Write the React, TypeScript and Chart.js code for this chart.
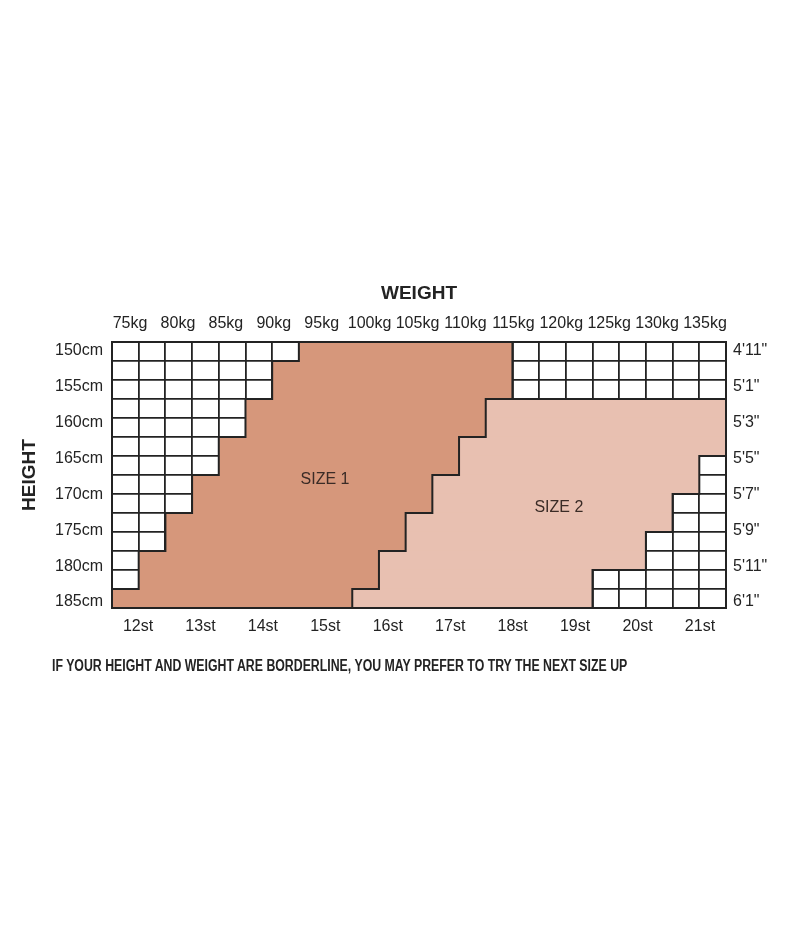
import React, { useEffect, useRef } from "react";
import { Chart, registerables } from "chart.js";

Chart.register(...registerables);

// ---- Data ----
// The grid has 23 weight columns and 14 height rows (row 0 = top, 150cm).
const columnCount = 23;
const rowCount = 14;
// Per row: first column of SIZE 1 (columns before it are blank cells)
const size1Start = [7, 6, 6, 5, 5, 4, 4, 3, 3, 2, 2, 1, 1, 0];
// Per row: first column of SIZE 2 (= end of SIZE 1)
const size2Start = [15, 15, 15, 14, 14, 13, 13, 12, 12, 11, 11, 10, 10, 9];
// Per row: end column of SIZE 2 (null = no SIZE 2 on that row)
const size2End: (number | null)[] = [null, null, null, 23, 23, 23, 22, 22, 21, 21, 20, 20, 18, 18];

const sizeNames = ["SIZE 1", "SIZE 2"];

const kgTicks = [75, 80, 85, 90, 95, 100, 105, 110, 115, 120, 125, 130, 135];
const stTicks = [12, 13, 14, 15, 16, 17, 18, 19, 20, 21];
const cmTicks = [150, 155, 160, 165, 170, 175, 180, 185];
const inchTicks = [59, 61, 63, 65, 67, 69, 71, 73];
const ftLabels = [`4'11"`, `5'1"`, `5'3"`, `5'5"`, `5'7"`, `5'9"`, `5'11"`, `6'1"`];

const footnote =
  "IF YOUR HEIGHT AND WEIGHT ARE BORDERLINE, YOU MAY PREFER TO TRY THE NEXT SIZE UP";

// ---- Styles ----
const ink = "#232323";
const size1Color = "#D6977B";
const size2Color = "#E8C0B1";
const fontFamily = '"Liberation Sans", Arial, Helvetica, sans-serif';

Chart.defaults.font.family = fontFamily;
Chart.defaults.color = ink;

function edgePath(cols: (number | null)[], rows: number[], lead?: { x: number; y: number }) {
  const pts: { x: number; y: number }[] = [];
  if (lead) pts.push(lead);
  rows.forEach((r) => {
    const c = cols[r];
    if (c === null) return;
    pts.push({ x: c, y: r });
    pts.push({ x: c, y: r + 1 });
  });
  return pts;
}

const regionLabelPlugin = {
  id: "regionLabels",
  afterDatasetsDraw(chart: any, _args: any, opts: any) {
    const { ctx } = chart;
    const xs = chart.scales.x;
    const ys = chart.scales.y;
    ctx.save();
    ctx.font = `${opts.size}px ${fontFamily}`;
    ctx.fillStyle = opts.color;
    ctx.textAlign = "center";
    ctx.textBaseline = "middle";
    opts.items.forEach((it: any) => {
      ctx.fillText(it.text, xs.getPixelForValue(it.x), ys.getPixelForValue(it.y));
    });
    ctx.restore();
  },
};

export default function App() {
  const canvasRef = useRef<HTMLCanvasElement>(null);
  const noteRef = useRef<HTMLSpanElement>(null);

  useEffect(() => {
    const canvas = canvasRef.current;
    if (!canvas) return;
    const rows = size1Start.map((_, i) => i);
    const firstSize2Row = size2End.findIndex((v) => v !== null);

    const lineStyle = {
      type: "line" as const,
      borderColor: ink,
      borderWidth: 2,
      pointRadius: 0,
      fill: false,
      tension: 0,
      order: 0,
    };

    const chart = new Chart(canvas, {
      type: "bar",
      data: {
        datasets: [
          { ...lineStyle, label: "blank / SIZE 1", data: edgePath(size1Start, rows) },
          { ...lineStyle, label: "SIZE 1 / SIZE 2", data: edgePath(size2Start, rows) },
          {
            ...lineStyle,
            label: "SIZE 2 / blank",
            data: edgePath(size2End, rows, { x: size2Start[firstSize2Row - 1], y: firstSize2Row }),
          },
          {
            type: "bar",
            label: sizeNames[0],
            data: rows.map((i) => ({ y: i + 0.5, x: [size1Start[i], size2Start[i]] })),
            backgroundColor: size1Color,
            borderWidth: 0,
            grouped: false,
            barPercentage: 1,
            categoryPercentage: 1,
            order: 1,
          } as any,
          {
            type: "bar",
            label: sizeNames[1],
            data: rows
              .filter((i) => size2End[i] !== null)
              .map((i) => ({ y: i + 0.5, x: [size2Start[i], size2End[i]] })),
            backgroundColor: size2Color,
            borderWidth: 0,
            grouped: false,
            barPercentage: 1,
            categoryPercentage: 1,
            order: 1,
          } as any,
        ],
      },
      options: {
        indexAxis: "y",
        animation: false,
        responsive: false,
        layout: { padding: { top: 260, bottom: 60, left: 0, right: 0 } },
        plugins: {
          legend: { display: false },
          tooltip: { enabled: false },
          regionLabels: {
            size: 16,
            color: "#3a2b26",
            items: [
              { text: sizeNames[0], x: 7.98, y: 7.26 },
              { text: sizeNames[1], x: 16.74, y: 8.74 },
            ],
          },
        } as any,
        scales: {
          x: {
            type: "linear",
            position: "bottom",
            min: 0,
            max: columnCount,
            offset: false,
            ticks: { display: false, stepSize: 1 },
            grid: { color: ink, lineWidth: 1.8, drawTicks: false, offset: false },
            border: { display: false },
            afterFit: (s: any) => {
              s.height = 0;
            },
          },
          y: {
            type: "linear",
            position: "left",
            min: 0,
            max: rowCount,
            reverse: true,
            offset: false,
            ticks: { display: false, stepSize: 1 },
            grid: { color: ink, lineWidth: 1.8, drawTicks: false, offset: false },
            border: { display: false },
            afterFit: (s: any) => {
              s.width = 0;
            },
          },
          kg: {
            type: "linear",
            position: "top",
            min: 73.12,
            max: 137.19,
            offset: false,
            afterBuildTicks: (s: any) => {
              s.ticks = kgTicks.map((v) => ({ value: v }));
            },
            ticks: {
              autoSkip: false,
              maxRotation: 0,
              padding: 9,
              font: { size: 16 },
              callback: (v: any) => `${v}kg`,
            },
            grid: { display: false, drawTicks: false, offset: false },
            border: { display: true, color: ink, width: 2, z: 1 },
            title: {
              display: true,
              text: "WEIGHT",
              font: { size: 19, weight: "bold" },
              padding: { top: 14, bottom: 0 },
            },
            afterFit: (s: any) => {
              s.height = 74;
            },
          },
          st: {
            type: "linear",
            position: "bottom",
            min: 11.583,
            max: 21.417,
            offset: false,
            afterBuildTicks: (s: any) => {
              s.ticks = stTicks.map((v) => ({ value: v }));
            },
            ticks: {
              autoSkip: false,
              maxRotation: 0,
              padding: 9,
              font: { size: 16 },
              callback: (v: any) => `${v}st`,
            },
            grid: { display: false, drawTicks: false, offset: false },
            border: { display: true, color: ink, width: 2, z: 1 },
            afterFit: (s: any) => {
              s.height = 40;
            },
          },
          cm: {
            type: "linear",
            position: "left",
            min: 148.745,
            max: 185.837,
            reverse: true,
            offset: false,
            afterBuildTicks: (s: any) => {
              s.ticks = cmTicks.map((v) => ({ value: v }));
            },
            ticks: {
              autoSkip: false,
              padding: 9,
              font: { size: 16 },
              callback: (v: any) => `${v}cm`,
            },
            grid: { display: false, drawTicks: false, offset: false },
            border: { display: true, color: ink, width: 2, z: 1 },
            title: {
              display: true,
              text: "HEIGHT",
              font: { size: 19, weight: "bold" },
              padding: { top: 10, bottom: 0 },
            },
            afterFit: (s: any) => {
              s.width = 104;
            },
          },
          ft: {
            type: "linear",
            position: "right",
            min: 58.498,
            max: 73.335,
            reverse: true,
            offset: false,
            afterBuildTicks: (s: any) => {
              s.ticks = inchTicks.map((v) => ({ value: v }));
            },
            ticks: {
              autoSkip: false,
              padding: 7,
              font: { size: 16 },
              callback: (_v: any, i: number) => ftLabels[i],
            },
            grid: { display: false, drawTicks: false, offset: false },
            border: { display: true, color: ink, width: 2, z: 1 },
            afterFit: (s: any) => {
              s.width = 66;
            },
          },
        } as any,
      },
      plugins: [regionLabelPlugin],
    } as any);

    return () => chart.destroy();
  }, []);

  useEffect(() => {
    const el = noteRef.current;
    if (!el) return;
    const w = el.offsetWidth;
    if (w > 0) el.style.transform = `scaleX(${575 / w})`;
  }, []);

  return (
    <div style={{ position: "relative", width: 784, height: 934 }}>
      <canvas ref={canvasRef} width={784} height={700} style={{ display: "block", width: 784, height: 700 }} />
      <span
        ref={noteRef}
        style={{
          position: "absolute",
          left: 44,
          top: 650,
          fontFamily: '"Liberation Sans Narrow", "Liberation Sans", Arial, sans-serif',
          fontWeight: "bold",
          fontSize: 16,
          lineHeight: "16px",
          whiteSpace: "nowrap",
          transformOrigin: "left top",
          color: ink,
          display: "inline-block",
        }}
      >
        {footnote}
      </span>
    </div>
  );
}
